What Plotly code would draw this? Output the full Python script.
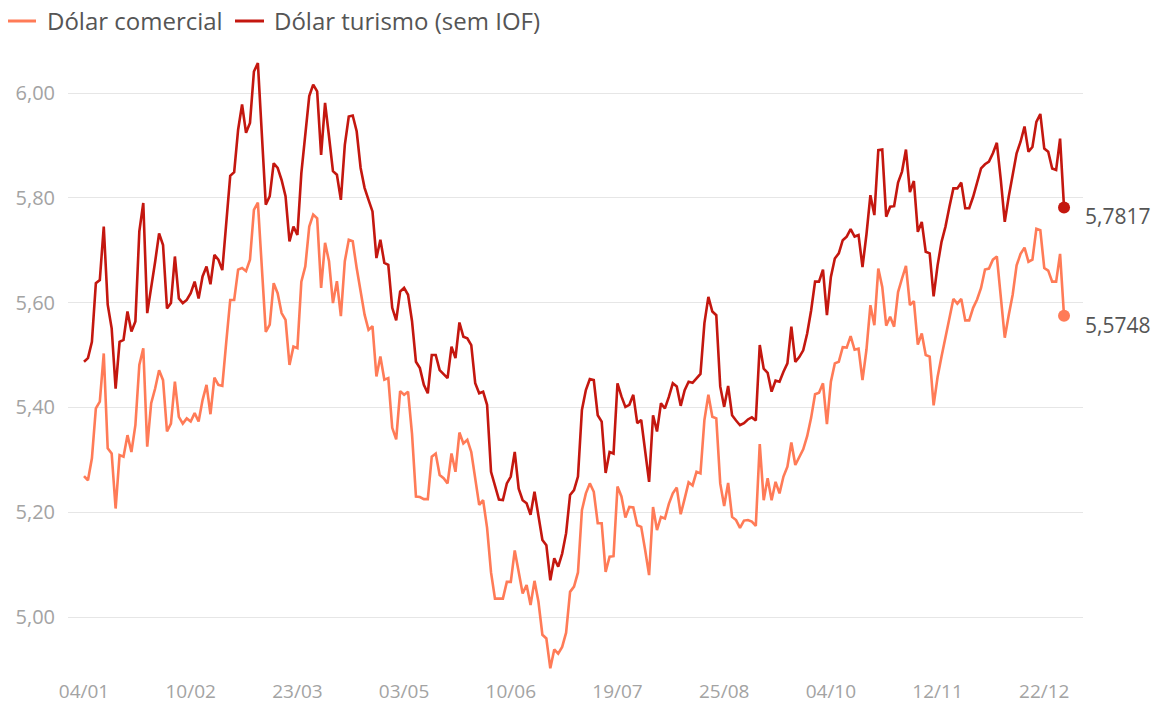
import pandas as pd
import plotly.graph_objects as go

# Trading days of 2021 (B3 calendar)
holidays = ["2021-02-15", "2021-02-16", "2021-04-02", "2021-04-21", "2021-06-03",
            "2021-09-07", "2021-10-12", "2021-11-02", "2021-11-15", "2021-12-24"]
dates = pd.bdate_range("2021-01-04", "2021-12-30", freq="C", holidays=holidays)
date_labels = list(dates.strftime("%d/%m"))

tick_labels = ["04/01", "10/02", "23/03", "03/05", "10/06", "19/07", "25/08", "04/10", "12/11", "22/12"]
y_ticks = [5.0, 5.2, 5.4, 5.6, 5.8, 6.0]

comercial = [
    5.269, 5.261, 5.303, 5.398, 5.411, 5.503, 5.322, 5.312, 5.207, 5.309,
    5.306, 5.347, 5.315, 5.366, 5.481, 5.513, 5.325, 5.408, 5.436, 5.471,
    5.452, 5.354, 5.369, 5.449, 5.382, 5.369, 5.379, 5.373, 5.389, 5.373,
    5.414, 5.443, 5.387, 5.457, 5.443, 5.441, 5.525, 5.605, 5.605, 5.663,
    5.666, 5.660, 5.682, 5.777, 5.791, 5.669, 5.544, 5.558, 5.637, 5.618,
    5.580, 5.567, 5.481, 5.516, 5.513, 5.640, 5.669, 5.745, 5.768, 5.761,
    5.628, 5.714, 5.679, 5.599, 5.641, 5.574, 5.679, 5.720, 5.717, 5.666,
    5.621, 5.577, 5.548, 5.555, 5.459, 5.497, 5.453, 5.456, 5.361, 5.339,
    5.431, 5.424, 5.430, 5.350, 5.230, 5.229, 5.225, 5.225, 5.306, 5.312,
    5.271, 5.265, 5.255, 5.312, 5.277, 5.352, 5.331, 5.338, 5.315, 5.261,
    5.214, 5.223, 5.170, 5.085, 5.035, 5.035, 5.035, 5.067, 5.067, 5.127,
    5.083, 5.045, 5.061, 5.023, 5.069, 5.029, 4.966, 4.959, 4.902, 4.938,
    4.930, 4.943, 4.970, 5.048, 5.058, 5.085, 5.204, 5.236, 5.255, 5.239,
    5.179, 5.179, 5.086, 5.115, 5.116, 5.249, 5.230, 5.190, 5.210, 5.209,
    5.175, 5.172, 5.128, 5.080, 5.210, 5.166, 5.191, 5.188, 5.216, 5.236,
    5.247, 5.196, 5.226, 5.257, 5.251, 5.277, 5.274, 5.376, 5.424, 5.382,
    5.379, 5.255, 5.212, 5.256, 5.191, 5.185, 5.170, 5.184, 5.185, 5.182,
    5.174, 5.330, 5.223, 5.265, 5.223, 5.258, 5.236, 5.268, 5.287, 5.333,
    5.290, 5.306, 5.320, 5.345, 5.380, 5.425, 5.428, 5.446, 5.368, 5.449,
    5.484, 5.487, 5.515, 5.514, 5.536, 5.510, 5.512, 5.452, 5.510, 5.595,
    5.557, 5.665, 5.630, 5.556, 5.573, 5.554, 5.620, 5.646, 5.670, 5.595,
    5.603, 5.520, 5.541, 5.500, 5.497, 5.404, 5.458, 5.497, 5.535, 5.571,
    5.607, 5.598, 5.607, 5.566, 5.566, 5.590, 5.606, 5.628, 5.663, 5.665,
    5.682, 5.688, 5.610, 5.533, 5.576, 5.615, 5.671, 5.693, 5.705, 5.678,
    5.682, 5.741, 5.738, 5.666, 5.661, 5.640, 5.640, 5.693, 5.5748,
]

turismo = [
    5.487, 5.494, 5.525, 5.637, 5.643, 5.745, 5.596, 5.551, 5.436, 5.525,
    5.529, 5.583, 5.545, 5.564, 5.736, 5.790, 5.580, 5.627, 5.678, 5.732,
    5.710, 5.589, 5.599, 5.688, 5.608, 5.599, 5.605, 5.618, 5.640, 5.608,
    5.650, 5.669, 5.635, 5.691, 5.682, 5.662, 5.760, 5.842, 5.849, 5.930,
    5.978, 5.924, 5.943, 6.041, 6.057, 5.920, 5.787, 5.803, 5.866, 5.857,
    5.834, 5.803, 5.717, 5.745, 5.729, 5.847, 5.927, 5.994, 6.016, 6.003,
    5.882, 5.981, 5.917, 5.851, 5.844, 5.796, 5.901, 5.955, 5.957, 5.927,
    5.857, 5.819, 5.796, 5.774, 5.685, 5.720, 5.676, 5.672, 5.590, 5.566,
    5.621, 5.628, 5.615, 5.565, 5.487, 5.475, 5.443, 5.427, 5.500, 5.500,
    5.471, 5.464, 5.456, 5.516, 5.494, 5.562, 5.535, 5.532, 5.519, 5.446,
    5.427, 5.430, 5.405, 5.277, 5.249, 5.224, 5.223, 5.255, 5.268, 5.315,
    5.245, 5.223, 5.217, 5.195, 5.239, 5.191, 5.147, 5.137, 5.070, 5.112,
    5.096, 5.121, 5.160, 5.233, 5.242, 5.268, 5.395, 5.433, 5.454, 5.452,
    5.385, 5.373, 5.275, 5.315, 5.312, 5.446, 5.421, 5.401, 5.405, 5.424,
    5.370, 5.376, 5.320, 5.258, 5.385, 5.354, 5.408, 5.398, 5.420, 5.446,
    5.440, 5.403, 5.433, 5.449, 5.447, 5.456, 5.464, 5.561, 5.611, 5.583,
    5.576, 5.440, 5.401, 5.441, 5.385, 5.375, 5.366, 5.370, 5.377, 5.381,
    5.375, 5.519, 5.474, 5.466, 5.430, 5.451, 5.449, 5.468, 5.484, 5.554,
    5.487, 5.496, 5.509, 5.541, 5.585, 5.640, 5.640, 5.663, 5.576, 5.649,
    5.684, 5.694, 5.719, 5.726, 5.740, 5.726, 5.729, 5.668, 5.730, 5.805,
    5.767, 5.891, 5.892, 5.764, 5.783, 5.784, 5.829, 5.850, 5.892, 5.811,
    5.832, 5.735, 5.754, 5.697, 5.694, 5.612, 5.671, 5.716, 5.745, 5.783,
    5.818, 5.818, 5.829, 5.780, 5.780, 5.802, 5.827, 5.856, 5.864, 5.869,
    5.885, 5.905, 5.834, 5.754, 5.802, 5.843, 5.885, 5.907, 5.936, 5.888,
    5.897, 5.945, 5.960, 5.894, 5.888, 5.856, 5.853, 5.913, 5.7817,
]

series = [
    ("Dólar comercial", comercial, "#ff7b57"),
    ("Dólar turismo (sem IOF)", turismo, "#c4170f"),
]

W, H = 1161, 706
ML, MR, MT, MB = 68, 78, 50, 28
PW, PH = W - ML - MR, H - MT - MB
# 6,00 sits at y=93 and 5,00 at y=617 in the reference (524 px per unit)
Y_TOP = 6.0 + (93 - MT) / 524
Y_BOT = 5.0 - (H - MB - 617) / 524


def px_x(x):
    return (x - ML) / PW


def px_y(y):
    return (H - MB - y) / PH


FONT = "Open Sans"
fig = go.Figure()
for name, vals, color in series:
    fig.add_trace(go.Scatter(
        x=date_labels, y=vals, mode="lines", name=name,
        line=dict(color=color, width=2.6), cliponaxis=False,
        hoverinfo="skip",
    ))
for name, vals, color in series:
    fig.add_trace(go.Scatter(
        x=[date_labels[-1]], y=[vals[-1]], mode="markers", showlegend=False,
        marker=dict(color=color, size=12), cliponaxis=False, hoverinfo="skip",
    ))
    fig.add_annotation(
        x=date_labels[-1], y=vals[-1], xref="x", yref="y",
        text=f"{vals[-1]:.4f}".replace(".", ","), showarrow=False,
        xanchor="left", yanchor="middle", xshift=19, yshift=-9,
        font=dict(family=FONT, size=21, color="#555555"),
    )

# legend drawn as swatch + label, laid out as in the reference header
legend_items = [((8, 36), 46), ((235, 264), 273)]
for (name, vals, color), ((sx0, sx1), tx) in zip(series, legend_items):
    fig.add_shape(type="line", xref="paper", yref="paper",
                  x0=px_x(sx0), x1=px_x(sx1), y0=px_y(21), y1=px_y(21),
                  line=dict(color=color, width=3))
    fig.add_annotation(xref="paper", yref="paper", x=px_x(tx), y=px_y(21),
                       text=name, showarrow=False, xanchor="left", yanchor="middle",
                       borderpad=0, font=dict(family=FONT, size=24, color="#555555"))

n = len(date_labels)
fig.update_layout(
    template="none",
    width=W, height=H,
    margin=dict(l=ML, r=MR, t=MT, b=MB, pad=0),
    paper_bgcolor="white", plot_bgcolor="white",
    separators=",.",
    font=dict(family=FONT, color="#555555"),
    showlegend=False,
    hovermode=False,
    xaxis=dict(
        type="category", categoryorder="array", categoryarray=date_labels,
        range=[-4.05, n - 1 + 4.8], automargin=False,
        tickmode="array", tickvals=tick_labels, ticktext=tick_labels,
        showgrid=False, zeroline=False, showline=False, ticks="",
        tickfont=dict(family=FONT, size=19, color="#a3a3a3"),
    ),
    yaxis=dict(
        range=[Y_BOT, Y_TOP], automargin=False,
        tickmode="array", tickvals=y_ticks, tickformat=".2f",
        showgrid=True, gridcolor="#e6e6e6", gridwidth=1,
        zeroline=False, showline=False, ticks="",
        ticklabelstandoff=12,
        tickfont=dict(family=FONT, size=20, color="#a3a3a3"),
    ),
)

fig.write_html(
    "out.html",
    config={"displayModeBar": False},
    post_script="document.body.style.margin='0';document.body.style.overflow='hidden';",
)
